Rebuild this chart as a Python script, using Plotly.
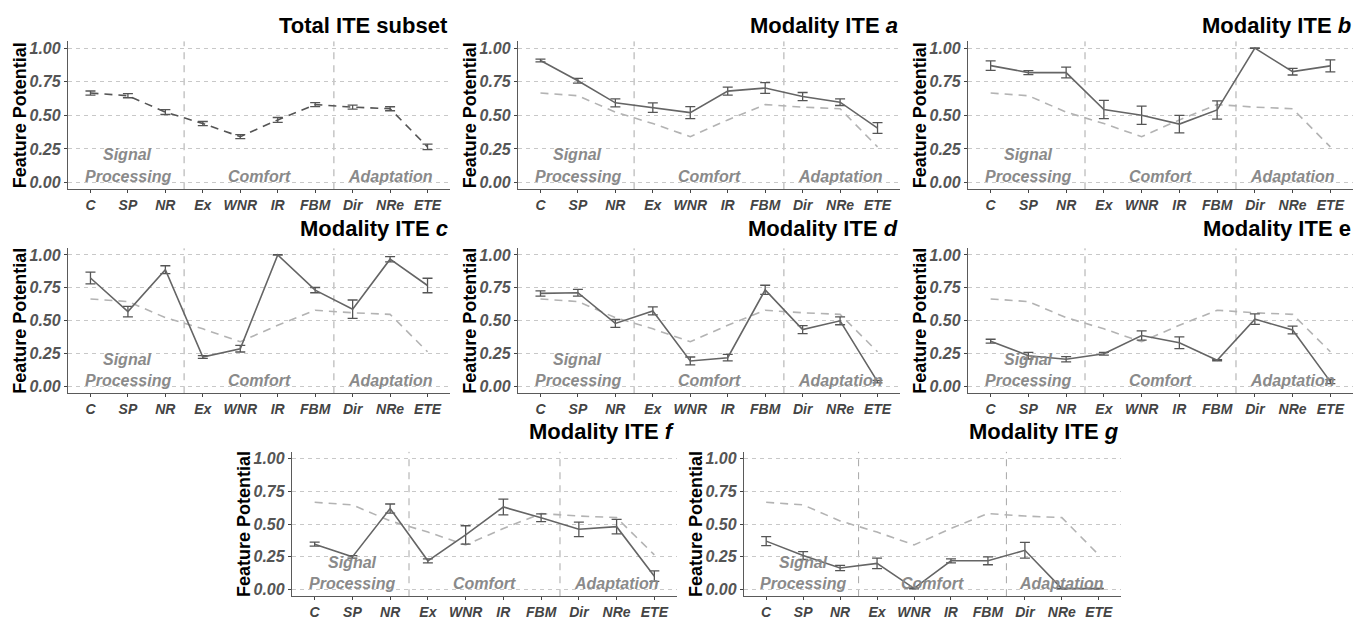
import plotly.graph_objects as go

W, H = 1371, 620

categories = ["C", "SP", "NR", "Ex", "WNR", "IR", "FBM", "Dir", "NRe", "ETE"]
y_ticks = [0.0, 0.25, 0.5, 0.75, 1.0]
y_tick_labels = ["0.00", "0.25", "0.50", "0.75", "1.00"]
section_names = ["Processing", "Comfort", "Adaptation"]
section_top = "Signal"

total_mean = [0.666, 0.646, 0.524, 0.439, 0.341, 0.466, 0.580, 0.561, 0.549, 0.265]
total_err = [0.015, 0.015, 0.018, 0.015, 0.015, 0.018, 0.015, 0.015, 0.015, 0.020]

a_mean = [0.908, 0.757, 0.593, 0.557, 0.520, 0.680, 0.703, 0.640, 0.598, 0.405]
a_err = [0.010, 0.018, 0.030, 0.035, 0.045, 0.030, 0.040, 0.030, 0.025, 0.040]

b_mean = [0.870, 0.818, 0.818, 0.543, 0.500, 0.435, 0.540, 1.000, 0.825, 0.868]
b_err = [0.035, 0.015, 0.040, 0.068, 0.068, 0.065, 0.068, 0.002, 0.025, 0.045]

c_mean = [0.825, 0.570, 0.888, 0.225, 0.288, 1.000, 0.733, 0.588, 0.968, 0.768]
c_err = [0.045, 0.040, 0.030, 0.010, 0.025, 0.002, 0.020, 0.070, 0.020, 0.055]

d_mean = [0.708, 0.713, 0.480, 0.575, 0.195, 0.220, 0.735, 0.433, 0.500, 0.038]
d_err = [0.020, 0.025, 0.030, 0.030, 0.030, 0.025, 0.035, 0.030, 0.030, 0.010]

e_mean = [0.345, 0.235, 0.208, 0.250, 0.388, 0.333, 0.200, 0.513, 0.430, 0.038]
e_err = [0.015, 0.025, 0.020, 0.010, 0.035, 0.045, 0.005, 0.040, 0.030, 0.015]

f_mean = [0.347, 0.250, 0.618, 0.220, 0.417, 0.630, 0.548, 0.460, 0.480, 0.103]
f_err = [0.015, 0.010, 0.035, 0.015, 0.070, 0.060, 0.030, 0.055, 0.055, 0.040]

g_mean = [0.370, 0.260, 0.165, 0.200, 0.010, 0.220, 0.220, 0.300, 0.008, 0.008]
g_err = [0.035, 0.030, 0.020, 0.040, 0.004, 0.015, 0.030, 0.060, 0.002, 0.002]

panel_titles = ["Total ITE subset", "Modality ITE <i>a</i>", "Modality ITE <i>b</i>",
                "Modality ITE <i>c</i>", "Modality ITE <i>d</i>", "Modality ITE e",
                "Modality ITE <i>f</i>", "Modality ITE <i>g</i>"]
modality_means = [None, a_mean, b_mean, c_mean, d_mean, e_mean, f_mean, g_mean]
modality_errs = [None, a_err, b_err, c_err, d_err, e_err, f_err, g_err]

# panel boxes in pixels: (left, right, top, bottom, title_center_y)
boxes = [
    (68, 450, 40, 190, 24),
    (518, 900, 40, 190, 24),
    (968, 1353, 40, 190, 24),
    (68, 450, 250, 397, 230),
    (518, 900, 250, 397, 230),
    (968, 1353, 250, 397, 230),
    (292, 677, 456.5, 603, 435.5),
    (744, 1121, 456.5, 603, 435.5),
]

FONT = "Liberation Sans, Arial, sans-serif"
DARK = "#555555"
LIGHT = "#b3b3b3"

fig = go.Figure()
layout = dict(width=W, height=H, margin=dict(l=0, r=0, t=0, b=0),
              paper_bgcolor="white", plot_bgcolor="white", showlegend=False,
              font=dict(family=FONT))
annotations = []
shapes = []

for i, (l, r, t, b, tc) in enumerate(boxes):
    n = "" if i == 0 else str(i + 1)
    xa, ya = "x" + n, "y" + n
    layout["xaxis" + n] = dict(
        domain=[l / W, r / W], anchor=ya, type="category",
        categoryorder="array", categoryarray=categories,
        range=[-0.6, 9.6], showgrid=False, zeroline=False,
        showline=True, linecolor="#5a5a5a", linewidth=1.3,
        ticks="outside", ticklen=3, tickcolor="#444", tickwidth=1,
        tickfont=dict(family=FONT, size=14, color="#444444", weight="bold", style="italic"),
    )
    layout["yaxis" + n] = dict(
        domain=[1 - b / H, 1 - t / H], anchor=xa,
        range=[-0.05, 1.05], tickvals=y_ticks, ticktext=y_tick_labels,
        showgrid=True, gridcolor="#c8c8c8", gridwidth=1, griddash="4px,4px",
        zeroline=False, showline=True, linecolor="#5a5a5a", linewidth=1.3,
        ticks="outside", ticklen=3, tickcolor="#444", tickwidth=1,
        tickfont=dict(family=FONT, size=16, color="#555555", weight="bold", style="italic"),
    )
    # separator lines
    for xv in (2.5, 6.5):
        shapes.append(dict(type="line", xref=xa, yref=ya + " domain", x0=xv, x1=xv, y0=0, y1=1,
                           line=dict(color="#a8a8a8", width=1, dash="7px,6px"), layer="below"))
    # total line
    if i == 0:
        fig.add_trace(go.Scatter(
            x=categories, y=total_mean, xaxis=xa, yaxis=ya, mode="lines",
            line=dict(color=DARK, width=1.6, dash="8px,6px"),
            error_y=dict(type="data", array=total_err, color=DARK, thickness=1.3, width=5)))
    else:
        fig.add_trace(go.Scatter(
            x=categories, y=total_mean, xaxis=xa, yaxis=ya, mode="lines",
            line=dict(color=LIGHT, width=1.6, dash="8px,6px")))
        fig.add_trace(go.Scatter(
            x=categories, y=modality_means[i], xaxis=xa, yaxis=ya, mode="lines",
            line=dict(color="#656565", width=1.6),
            error_y=dict(type="data", array=modality_errs[i], color=DARK, thickness=1.3, width=5)))
    # section labels
    sec_font = dict(family=FONT, size=16, color="#8a8a8a", weight="bold", style="italic")
    annotations.append(dict(xref=xa, yref=ya, x=1, y=0.205, text=section_top, showarrow=False,
                            font=sec_font, xanchor="center", yanchor="middle"))
    for sx, name in zip((1, 4.5, 8), section_names):
        annotations.append(dict(xref=xa, yref=ya, x=sx, y=0.045, text=name, showarrow=False,
                                font=sec_font, xanchor="center", yanchor="middle"))
    # panel title
    annotations.append(dict(xref="paper", yref="paper", x=r / W, y=1 - tc / H,
                            text="<b>" + panel_titles[i] + "</b>", showarrow=False,
                            xanchor="right", yanchor="middle",
                            font=dict(family=FONT, size=22, color="black")))
    # y axis title
    annotations.append(dict(xref="paper", yref="paper", x=(l - 48) / W, y=1 - (t + b) / 2 / H,
                            text="<b>Feature Potential</b>", showarrow=False, textangle=-90,
                            xanchor="center", yanchor="middle",
                            font=dict(family=FONT, size=18, color="black")))

layout["annotations"] = annotations
layout["shapes"] = shapes
fig.update_layout(**layout)
fig.write_html("out.html")
